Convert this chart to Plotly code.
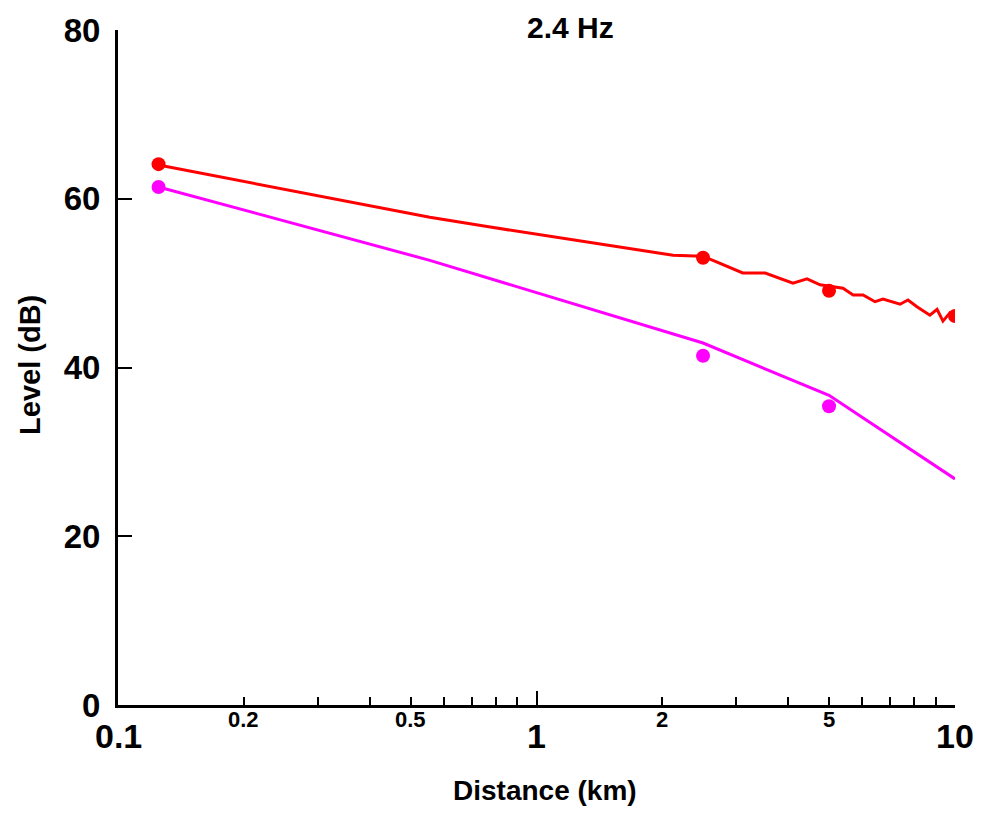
import numpy as np
import plotly.graph_objects as go

# ---- data ----
red_line_x = [0.125, 0.556, 0.762, 1.095, 1.583, 2.12, 2.49, 2.64, 3.11, 3.52, 4.10, 4.43, 4.76,
              5.40, 5.71, 6.03, 6.44, 6.73, 7.39, 7.72, 8.11, 8.71, 9.06, 9.36, 9.73, 10.0]
red_line_y = [64.0, 57.8, 56.7, 55.5, 54.3, 53.3, 53.2, 52.7, 51.2, 51.2, 50.0, 50.5, 49.8,
              49.4, 48.6, 48.6, 47.8, 48.1, 47.5, 48.0, 47.2, 46.2, 46.9, 45.5, 46.5, 46.1]
red_pts_x = [0.125, 2.5, 5.0, 10.0]
red_pts_y = [64.1, 53.0, 49.1, 46.1]

mag_line_x = [0.125, 0.556, 2.5, 5.0, 10.0]
mag_line_y = [61.4, 52.7, 42.9, 36.7, 26.8]
mag_pts_x = [0.125, 2.5, 5.0]
mag_pts_y = [61.4, 41.4, 35.4]

x_major_ticks = [0.1, 1, 10]
x_major_labels = ["0.1", "1", "10"]
x_small_labels_vals = [0.2, 0.5, 2, 5]
x_small_labels = ["0.2", "0.5", "2", "5"]
x_minor_ticks = [0.2, 0.3, 0.4, 0.5, 0.6, 0.7, 0.8, 0.9, 2, 3, 4, 5, 6, 7, 8, 9]
y_ticks = [0, 20, 40, 60, 80]

title_text = "2.4 Hz"
x_title = "Distance (km)"
y_title = "Level (dB)"

RED = "#ff0000"
MAG = "#ff00ff"
FONT = "Arial, Liberation Sans, sans-serif"

fig = go.Figure()
fig.add_trace(go.Scatter(x=red_line_x, y=red_line_y, mode="lines",
                         line=dict(color=RED, width=3), showlegend=False))
fig.add_trace(go.Scatter(x=mag_line_x, y=mag_line_y, mode="lines",
                         line=dict(color=MAG, width=3), showlegend=False))
fig.add_trace(go.Scatter(x=red_pts_x, y=red_pts_y, mode="markers",
                         marker=dict(color=RED, size=14), showlegend=False))
fig.add_trace(go.Scatter(x=mag_pts_x, y=mag_pts_y, mode="markers",
                         marker=dict(color=MAG, size=14), showlegend=False))

annotations = []
for v, t in zip(x_major_ticks, x_major_labels):
    annotations.append(dict(x=np.log10(v), y=-0.046, xref="x", yref="paper", text=t,
                            showarrow=False, xanchor="center", yanchor="middle",
                            font=dict(family=FONT, size=34, color="black", weight="bold")))
for v, t in zip(x_small_labels_vals, x_small_labels):
    annotations.append(dict(x=np.log10(v), y=-0.022, xref="x", yref="paper", text=t,
                            showarrow=False, xanchor="center", yanchor="middle",
                            font=dict(family=FONT, size=22, color="black", weight="bold")))
annotations.append(dict(x=0.541, y=1.003, xref="paper", yref="paper", text=title_text,
                        showarrow=False, xanchor="center", yanchor="middle",
                        font=dict(family=FONT, size=30, color="black", weight="bold")))
annotations.append(dict(x=0.51, y=-0.127, xref="paper", yref="paper", text=x_title,
                        showarrow=False, xanchor="center", yanchor="middle",
                        font=dict(family=FONT, size=28, color="black", weight="bold")))
annotations.append(dict(x=-0.105, y=0.504, xref="paper", yref="paper", text=y_title,
                        showarrow=False, xanchor="center", yanchor="middle", textangle=-90,
                        font=dict(family=FONT, size=29, color="black", weight="bold")))

fig.update_layout(
    width=965, height=799,
    margin=dict(l=110, r=18, t=22, b=102, autoexpand=False),
    plot_bgcolor="white", paper_bgcolor="white",
    font=dict(family=FONT, color="black"),
    annotations=annotations,
    xaxis=dict(type="log", range=[-1, 1], showgrid=False, zeroline=False, automargin=False,
               showline=True, linecolor="black", linewidth=3,
               tickmode="array", tickvals=x_major_ticks, ticktext=["", "", ""],
               ticks="inside", ticklen=14, tickwidth=2, tickcolor="black",
               minor=dict(tickmode="array", tickvals=x_minor_ticks, ticks="inside",
                          ticklen=8, tickwidth=2, tickcolor="black", showgrid=False)),
    yaxis=dict(range=[0, 80], showgrid=False, zeroline=False, automargin=False,
               showline=True, linecolor="black", linewidth=3,
               tickmode="array", tickvals=y_ticks,
               ticks="inside", ticklen=14, tickwidth=2, tickcolor="black",
               ticklabelstandoff=8,
               tickfont=dict(family=FONT, size=33, color="black", weight="bold")),
)

fig.write_html("out.html")
